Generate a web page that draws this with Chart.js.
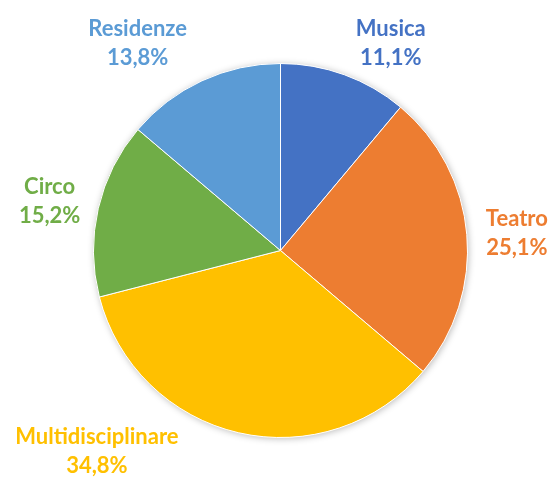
<!DOCTYPE html>
<html>
<head>
<meta charset="utf-8">
<script src="https://cdn.jsdelivr.net/npm/chart.js@4/dist/chart.umd.min.js"></script>
<style>
  html, body { margin: 0; padding: 0; background: #fff; }
  #wrap { width: 553px; height: 480px; }
</style>
</head>
<body>
<div id="wrap"><canvas id="pie-chart"></canvas></div>
<script>
const categories = ['Musica', 'Teatro', 'Multidisciplinare', 'Circo', 'Residenze'];
const shares = [11.1, 25.1, 34.8, 15.2, 13.8];
const sliceColors = ['#4472C4', '#ED7D31', '#FFC000', '#70AD47', '#5B9BD5'];

// outside labels, turned / pushed a bit like the spreadsheet did
const outsideLabels = {
  id: 'outsideLabels',
  afterDatasetsDraw(chart, args, opts) {
    const ctx = chart.ctx;
    const meta = chart.getDatasetMeta(0);
    ctx.save();
    ctx.font = opts.font;
    ctx.textAlign = 'center';
    ctx.textBaseline = 'middle';
    meta.data.forEach((arc, i) => {
      const tweak = opts.tweaks[i] || { turn: 0, push: 50 };
      const mid = (arc.startAngle + arc.endAngle) / 2 + tweak.turn * Math.PI / 180;
      const r = arc.outerRadius + tweak.push;
      const x = arc.x + Math.cos(mid) * r;
      const y = arc.y + Math.sin(mid) * r;
      ctx.fillStyle = sliceColors[i];
      ctx.fillText(categories[i], x, y - opts.lineGap / 2);
      ctx.fillText(shares[i].toFixed(1).replace('.', ',') + '%', x, y + opts.lineGap / 2);
    });
    ctx.restore();
  }
};

// soft shadow under the whole pie
const pieShadow = {
  id: 'pieShadow',
  beforeDatasetsDraw(chart) {
    const arc = chart.getDatasetMeta(0).data[0];
    if (!arc) return;
    const ctx = chart.ctx;
    ctx.save();
    ctx.shadowColor = 'rgba(0,0,0,0.28)';
    ctx.shadowBlur = 7;
    ctx.shadowOffsetX = 1;
    ctx.shadowOffsetY = 1;
    ctx.fillStyle = '#fff';
    ctx.beginPath();
    ctx.arc(arc.x, arc.y, arc.outerRadius, 0, Math.PI * 2);
    ctx.fill();
    ctx.restore();
  }
};

new Chart(document.getElementById('pie-chart'), {
  type: 'pie',
  data: {
    labels: categories,
    datasets: [{
      data: shares,
      backgroundColor: sliceColors,
      borderColor: '#ffffff',
      borderWidth: 1
    }]
  },
  options: {
    responsive: true,
    maintainAspectRatio: false,
    animation: false,
    layout: { padding: { left: 93, right: 85, top: 63, bottom: 42 } },
    plugins: {
      legend: { display: false },
      tooltip: { enabled: false },
      outsideLabels: {
        font: 'bold 22px Lato',
        lineGap: 29,
        tweaks: [
          { turn: 8, push: 48 },
          { turn: 0.7, push: 50 },
          { turn: 29.5, push: 85 },
          { turn: -1, push: 49 },
          { turn: -9.7, push: 65 }
        ]
      }
    }
  },
  plugins: [pieShadow, outsideLabels]
});
</script>
</body>
</html>
